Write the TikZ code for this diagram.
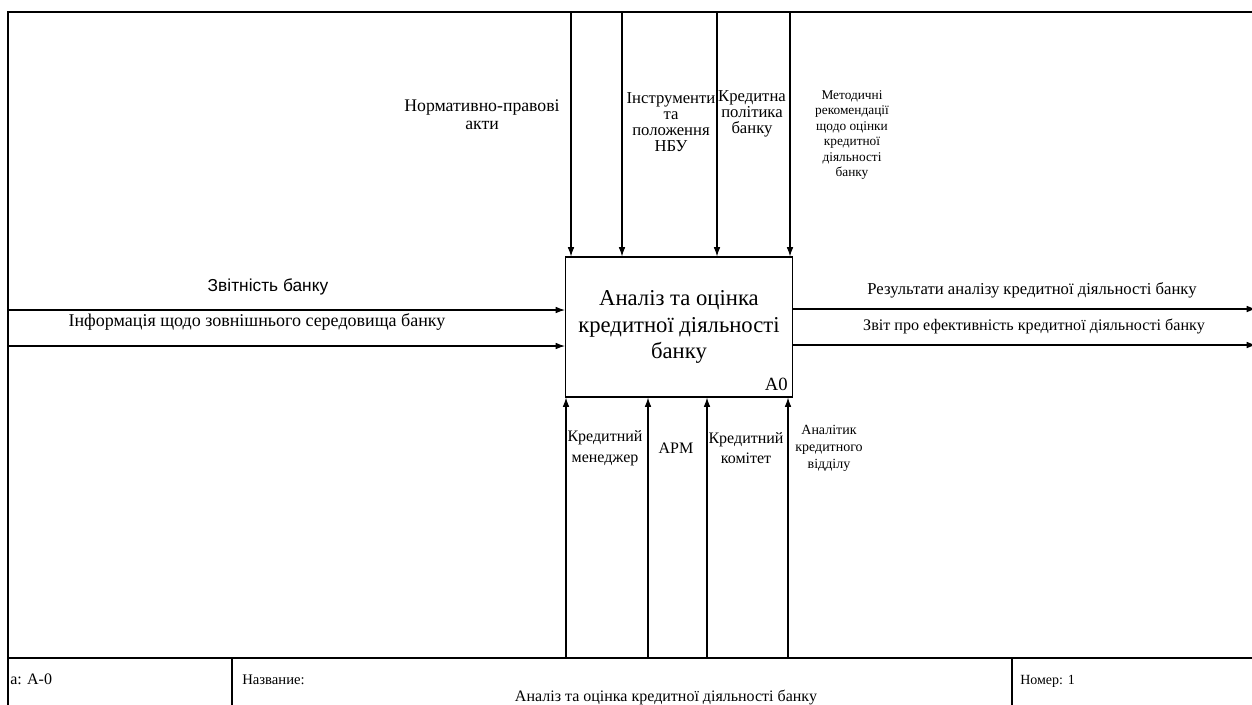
\documentclass[tikz,border=0pt]{standalone}
\usepackage{fontspec}
\setmainfont{Liberation Serif}
\newfontfamily\arialfont{Liberation Sans}
\usetikzlibrary{arrows.meta}
\newcommand\fsz[2]{\fontsize{#1}{#2}\selectfont}
\begin{document}
\begin{tikzpicture}[x=0.75pt,y=-0.75pt,
  ln/.style={line width=0.8pt},
  arr/.style={line width=0.8pt,-{Latex[length=7pt,width=5pt]}},
  lbl/.style={inner sep=0pt,align=center},
  io/.style={lbl,font=\fsz{12.5}{15}},
  ctl/.style={lbl,font=\fsz{12.5}{12}},
  small/.style={lbl,font=\fsz{10}{11.6}},
  mech/.style={lbl,font=\fsz{12}{15.5}},
  tb/.style={inner sep=0pt,anchor=base west,font=\fsz{10}{12}}]
\useasboundingbox (0,0) rectangle (1252,704);
\clip (0,0) rectangle (1252,704);
% frame and title block
\draw[line width=1.5pt] (8,710) -- (8,12) -- (1260,12);
\draw[ln] (8,658) -- (1260,658);
\draw[ln] (232,658) -- (232,710);
\draw[ln] (1012,658) -- (1012,710);
\node[tb,font=\fsz{12}{14}] (tnode) at (10,684) {a: A-0};
\node[tb,font=\fsz{11}{13}] (tname) at (242,684) {Название:};
\node[tb,font=\fsz{10.5}{12}] (tnum) at (1020,684) {Номер: 1};
\node[lbl,anchor=base,font=\fsz{12}{14}] (ttitle) at (666,701) {Аналіз та оцінка кредитної діяльності банку};
% main box
\node[draw,ln,minimum width=170.25pt,minimum height=105pt,inner sep=0pt] (A0) at (679,327) {};
\node[lbl,font=\fsz{17}{20}] (A0t) at (679,327) {Аналіз та оцінка\\кредитної діяльності\\банку};
\node[lbl,anchor=base east,font=\fsz{14}{16}] (A0n) at (788,390) {A0};
% controls
\coordinate (c1) at (571,12);
\coordinate (c2) at (622,12);
\coordinate (c3) at (717,12);
\coordinate (c4) at (790,12);
\foreach \c in {c1,c2,c3,c4} \draw[arr] (\c) -- (\c |- A0.north);
\node[lbl,font=\fsz{13.3}{13.5}] (l1) at (482,115) {Нормативно-правові\\акти};
\node[ctl] (l2) at (671,122) {Інструменти\\та\\положення\\НБУ};
\node[ctl] (l3) at (752,114) {Кредитна\\політика\\банку};
\node[small] (l4) at (852,135) {Методичні\\рекомендації\\щодо оцінки\\кредитної\\діяльності\\банку};
% inputs
\coordinate (i1) at (8,310);
\coordinate (i2) at (8,346);
\draw[arr] (i1) -- (i1 -| A0.west);
\draw[arr] (i2) -- (i2 -| A0.west);
\node[lbl,font=\arialfont\fsz{13}{15}] (li1) at (268,287) {Звітність банку};
\node[lbl,font=\fsz{13.5}{15}] (li2) at (257,322) {Інформація щодо зовнішнього середовища банку};
% outputs
\coordinate (o1) at (1256,309);
\coordinate (o2) at (1256,345);
\draw[arr] (A0.east |- o1) -- (o1);
\draw[arr] (A0.east |- o2) -- (o2);
\node[io] (lo1) at (1032,290) {Результати аналізу кредитної діяльності банку};
\node[lbl,font=\fsz{12.1}{15}] (lo2) at (1034,326) {Звіт про ефективність кредитної діяльності банку};
% mechanisms
\coordinate (m1) at (566,658);
\coordinate (m2) at (648,658);
\coordinate (m3) at (707,658);
\coordinate (m4) at (788,658);
\foreach \m in {m1,m2,m3,m4} \draw[arr] (\m) -- (\m |- A0.south);
\node[mech] (lm1) at (605,448) {Кредитний\\менеджер};
\node[mech] (lm2) at (676,448) {АРМ};
\node[mech] (lm3) at (746,448) {Кредитний\\комітет};
\node[small,font=\fsz{10.5}{12.8}] (lm4) at (829,448) {Аналітик\\кредитного\\відділу};
\end{tikzpicture}
\end{document}
